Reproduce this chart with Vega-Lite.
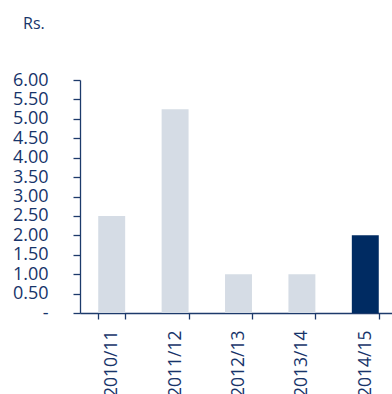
{
  "$schema": "https://vega.github.io/schema/vega-lite/v6.json",
  "autosize": "none",
  "padding": {"left": 80, "top": 80, "right": 0, "bottom": 81},
  "width": 312,
  "height": 233,
  "title": {
    "text": "Rs.",
    "frame": "group",
    "anchor": "start",
    "baseline": "alphabetic",
    "offset": 26,
    "dx": -57,
    "font": "Open Sans",
    "fontSize": 16,
    "fontWeight": 500,
    "color": "#17346a"
  },
  "data": {
    "values": [
      {"year": "2010/11", "dividend": 2.5, "current": "no"},
      {"year": "2011/12", "dividend": 5.25, "current": "no"},
      {"year": "2012/13", "dividend": 1.0, "current": "no"},
      {"year": "2013/14", "dividend": 1.0, "current": "no"},
      {"year": "2014/15", "dividend": 2.0, "current": "yes"}
    ]
  },
  "mark": {"type": "bar"},
  "encoding": {
    "x": {
      "field": "year",
      "type": "nominal",
      "sort": null,
      "scale": {"range": [0, 317], "paddingInner": 0.575, "paddingOuter": 0.2875},
      "axis": {
        "title": null,
        "labelAngle": -90,
        "labelAlign": "right",
        "labelBaseline": "middle",
        "labelPadding": 11,
        "tickBand": "extent",
        "tickSize": 6,
        "labelFontSize": 17.5,
        "labelFont": "Open Sans",
        "labelFontWeight": 500,
        "labelColor": "#17346a",
        "domainColor": "#1d3a6b",
        "tickColor": "#1d3a6b",
        "domainWidth": 1.3,
        "tickWidth": 1.3
      }
    },
    "y": {
      "field": "dividend",
      "type": "quantitative",
      "scale": {"domain": [0, 6], "nice": false},
      "axis": {
        "title": null,
        "values": [0, 0.5, 1, 1.5, 2, 2.5, 3, 3.5, 4, 4.5, 5, 5.5, 6],
        "labelExpr": "datum.value == 0 ? '-' : format(datum.value, '.2f')",
        "grid": false,
        "tickSize": 7,
        "labelPadding": 25,
        "labelFontSize": 18,
        "labelFont": "Open Sans",
        "labelFontWeight": 500,
        "labelColor": "#17346a",
        "domainColor": "#1d3a6b",
        "tickColor": "#1d3a6b",
        "domainWidth": 1.3,
        "tickWidth": 1.3,
        "labelOverlap": false,
        "labelFlush": false
      }
    },
    "color": {
      "field": "current",
      "type": "nominal",
      "scale": {"domain": ["no", "yes"], "range": ["#d5dce5", "#002b62"]},
      "legend": null
    }
  },
  "config": {"view": {"stroke": null}}
}
